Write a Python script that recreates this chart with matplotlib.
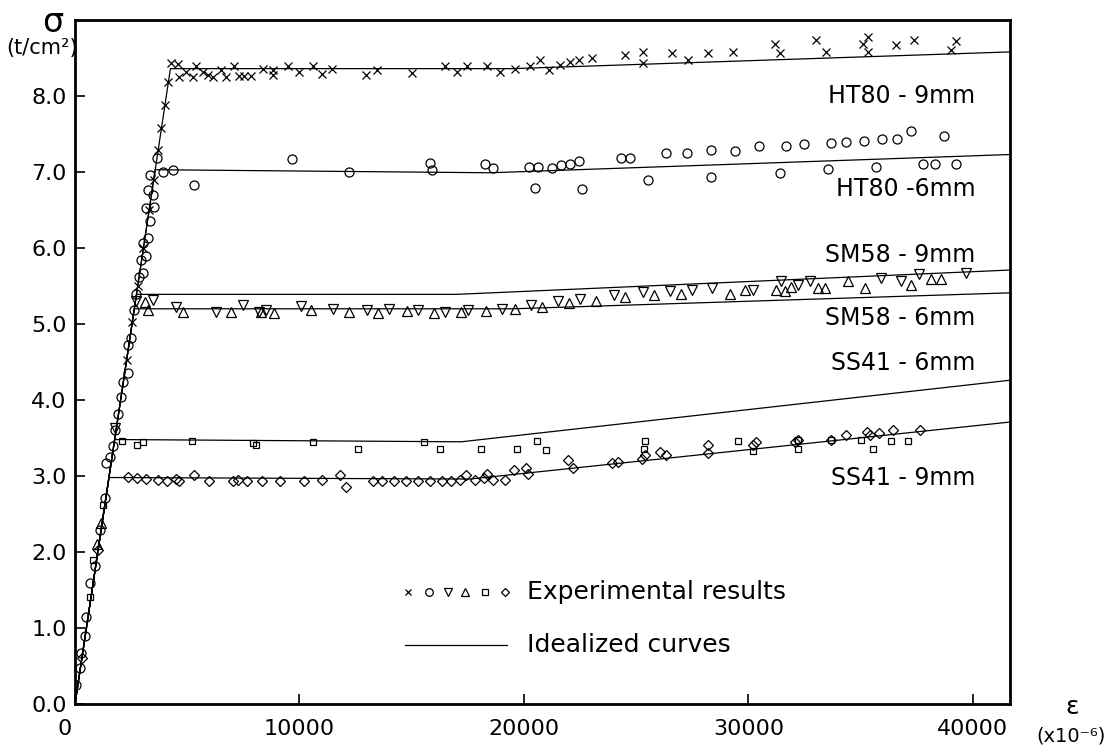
import matplotlib
matplotlib.use("Agg")
import matplotlib.pyplot as plt
from matplotlib.transforms import ScaledTranslation

plt.rcParams["font.family"] = ["DejaVu Sans"]

# ---------------------------------------------------------------
# Stress-strain data (strain in 1e-6, stress sigma_2 in t/cm^2)
# ---------------------------------------------------------------
ht80_9_strain = [2300, 2550, 2800, 3050, 3300, 3500, 3700, 3850, 4000, 4150,
                 4280, 4580, 4650, 4950, 5240, 5390, 5690, 5910, 6130, 6500,
                 6730, 7100, 7320, 7540, 7840, 8360, 8800, 8800, 9470, 9990,
                 10580, 11020, 11470, 12950, 13470, 15020, 16500, 17020, 17470, 18360,
                 18950, 19610, 20280, 20720, 21100, 21610, 22060, 22430, 23020, 24500,
                 25320, 25320, 26580, 27320, 28210, 29320, 31170, 31390, 33020, 33470,
                 35100, 35320, 35320, 36580, 37390, 39020, 39240]
ht80_9_stress = [4.53, 5.02, 5.50, 6.00, 6.50, 6.90, 7.29, 7.58, 7.88, 8.18,
                 8.43, 8.42, 8.25, 8.32, 8.25, 8.39, 8.32, 8.28, 8.25, 8.34,
                 8.25, 8.39, 8.26, 8.26, 8.26, 8.36, 8.34, 8.28, 8.39, 8.32,
                 8.39, 8.29, 8.36, 8.28, 8.34, 8.30, 8.39, 8.32, 8.39, 8.39,
                 8.32, 8.36, 8.39, 8.47, 8.34, 8.41, 8.45, 8.47, 8.50, 8.54,
                 8.58, 8.43, 8.56, 8.47, 8.56, 8.58, 8.69, 8.56, 8.74, 8.58,
                 8.69, 8.78, 8.58, 8.67, 8.74, 8.61, 8.72]

ht80_6_strain = [60, 210, 280, 430, 500, 650, 870, 1100, 1320, 1390,
                 1540, 1690, 1760, 1910, 2060, 2130, 2360, 2360, 2500, 2650,
                 2720, 2870, 3020, 2950, 3170, 3020, 3240, 3320, 3170, 3540,
                 3240, 3470, 3320, 3640, 3910,
                 4350, 5280, 9680, 12210, 15810, 15890, 18260, 18610, 20210, 20610,
                 20470, 21270, 21670, 22070, 22470, 22600, 24340, 24740, 25530, 26330,
                 27270, 28330, 28330, 29400, 30470, 31400, 31660, 32460, 33530, 33660,
                 34330, 35130, 35660, 35930, 36600, 37260, 37790, 38320, 38720, 39260]
ht80_6_stress = [0.25, 0.47, 0.67, 0.89, 1.15, 1.59, 1.81, 2.29, 2.71, 3.17,
                 3.25, 3.39, 3.61, 3.82, 4.04, 4.24, 4.35, 4.72, 4.81, 5.18,
                 5.40, 5.62, 5.67, 5.84, 5.89, 6.06, 6.13, 6.35, 6.52, 6.54,
                 6.76, 6.70, 6.96, 7.18, 7.00,
                 7.02, 6.83, 7.17, 7.00, 7.12, 7.03, 7.10, 7.05, 7.07, 7.07,
                 6.79, 7.05, 7.09, 7.10, 7.14, 6.77, 7.18, 7.19, 6.89, 7.25,
                 7.25, 7.29, 6.93, 7.27, 7.34, 6.99, 7.34, 7.37, 7.04, 7.38,
                 7.40, 7.41, 7.07, 7.44, 7.44, 7.54, 7.11, 7.11, 7.47, 7.11]

sm58_9_strain = [1760, 2720, 3470, 4500, 6280, 7470, 8210, 8500, 10060, 11500,
                 13000, 14000, 15300, 16500, 17500, 19000, 20300, 21500, 22500, 24000,
                 25300, 26500, 27500, 28360, 30210, 31470, 32210, 32730, 35910, 36800,
                 37610, 39690]
sm58_9_stress = [3.63, 5.30, 5.32, 5.23, 5.16, 5.25, 5.16, 5.18, 5.24, 5.20,
                 5.18, 5.20, 5.18, 5.16, 5.18, 5.20, 5.25, 5.30, 5.33, 5.38,
                 5.42, 5.44, 5.45, 5.47, 5.45, 5.56, 5.51, 5.57, 5.61, 5.56,
                 5.66, 5.67]

sm58_6_strain = [1000, 1170, 3100, 3240, 4800, 6950, 8280, 8880, 10500, 12200,
                 13500, 14800, 16000, 17200, 18300, 19600, 20800, 22000, 23200, 24500,
                 25800, 27000, 29170, 29840, 31240, 31610, 31910, 33100, 33390, 34430,
                 35170, 37240, 38130, 38580]
sm58_6_stress = [2.10, 2.38, 5.29, 5.18, 5.16, 5.16, 5.16, 5.14, 5.18, 5.16,
                 5.15, 5.17, 5.15, 5.16, 5.17, 5.20, 5.22, 5.28, 5.30, 5.35,
                 5.38, 5.40, 5.39, 5.45, 5.45, 5.43, 5.49, 5.47, 5.47, 5.56,
                 5.47, 5.51, 5.59, 5.59]

ss41_6_strain = [650, 800, 1240, 2090, 2760, 3020, 5230, 7950, 8080, 10610,
                 12610, 15540, 16260, 18080, 19680, 20600, 21000, 25400, 25350, 29530,
                 30200, 32190, 32190, 33660, 35000, 35530, 36330, 37120]
ss41_6_stress = [1.41, 1.89, 2.62, 3.46, 3.41, 3.45, 3.46, 3.44, 3.41, 3.45,
                 3.36, 3.45, 3.36, 3.35, 3.35, 3.46, 3.34, 3.46, 3.35, 3.46,
                 3.33, 3.47, 3.36, 3.47, 3.47, 3.36, 3.46, 3.46]

ss41_9_strain = [300, 1020, 2360, 2760, 3160, 3680, 4080, 4480, 4620, 5280,
                 5950, 7020, 7280, 7680, 8350, 9150, 10210, 11010, 11810, 12080,
                 13280, 13680, 14210, 14740, 15280, 15810, 16340, 16740, 17140, 17410,
                 17810, 18210, 18340, 18610, 19140, 19540, 20070, 20200, 21940, 22200,
                 23940, 24200, 25270, 25400, 26070, 26330, 28200, 28200, 30200, 30330,
                 32060, 32190, 33660, 34330, 35260, 35400, 35800, 36460, 37660]
ss41_9_stress = [0.60, 2.03, 2.99, 2.97, 2.96, 2.95, 2.93, 2.96, 2.93, 3.01,
                 2.93, 2.93, 2.95, 2.94, 2.94, 2.93, 2.93, 2.95, 3.01, 2.86,
                 2.93, 2.93, 2.93, 2.93, 2.93, 2.93, 2.93, 2.93, 2.95, 3.01,
                 2.95, 2.97, 3.03, 2.95, 2.95, 3.08, 3.10, 3.03, 3.21, 3.11,
                 3.17, 3.19, 3.22, 3.28, 3.32, 3.28, 3.30, 3.41, 3.41, 3.45,
                 3.45, 3.47, 3.48, 3.54, 3.58, 3.54, 3.56, 3.61, 3.60]

# Idealized (tri-linear) curves: origin -> yield -> start of hardening -> end
curve_names = ["HT80 - 9mm", "HT80 -6mm", "SM58 - 9mm", "SM58 - 6mm", "SS41 - 6mm", "SS41 - 9mm"]
curve_strain = [
    [0, 4250, 19500, 41650],
    [0, 3570, 18500, 41650],
    [0, 2740, 17000, 41650],
    [0, 2640, 19500, 41650],
    [0, 1760, 17200, 41650],
    [0, 1510, 17600, 41650],
]
curve_stress = [
    [0, 8.36, 8.36, 8.58],
    [0, 7.03, 6.99, 7.23],
    [0, 5.39, 5.39, 5.71],
    [0, 5.20, 5.20, 5.41],
    [0, 3.48, 3.45, 4.26],
    [0, 2.98, 2.96, 3.71],
]
label_stress = [8.0, 6.78, 5.91, 5.08, 4.49, 2.97]

y_ticks = [0, 1, 2, 3, 4, 5, 6, 7, 8]
y_tick_labels = ["0.0", "1.0", "2.0", "3.0", "4.0", "5.0", "6.0", "7.0", "8.0"]
x_ticks = [0, 10000, 20000, 30000, 40000]
x_tick_labels = ["0", "10000", "20000", "30000", "40000"]

W, H = 1119, 753
fig = plt.figure(figsize=(W / 100, H / 100), dpi=100)
ax = fig.add_axes([75 / W, 1 - 704 / H, (1010 - 75) / W, (704 - 20) / H])
ax.set_xlim(0, 41650)
ax.set_ylim(0, 9.0)

for xs, ys in zip(curve_strain, curve_stress):
    ax.plot(xs, ys, color="black", lw=0.9, zorder=2)

mk = dict(linestyle="none", markerfacecolor="none", markeredgecolor="black",
          markeredgewidth=0.9, zorder=3)
ax.plot(ht80_9_strain, ht80_9_stress, marker="x", markersize=5.5, **mk)
ax.plot(ht80_6_strain, ht80_6_stress, marker="o", markersize=6.5, **mk)
ax.plot(sm58_9_strain, sm58_9_stress, marker="v", markersize=7, **mk)
ax.plot(sm58_6_strain, sm58_6_stress, marker="^", markersize=7, **mk)
ax.plot(ss41_6_strain, ss41_6_stress, marker="s", markersize=5, **mk)
ax.plot(ss41_9_strain, ss41_9_stress, marker="D", markersize=5.5, **mk)

for name, ys in zip(curve_names, label_stress):
    ax.text(40100, ys, name, ha="right", va="center", fontsize=17)

ax.set_xticks(x_ticks)
ax.set_xticklabels(x_tick_labels)
ax.set_yticks(y_ticks)
ax.set_yticklabels(y_tick_labels)
ax.tick_params(direction="in", length=7, width=1.2, labelsize=16)
ax.tick_params(axis="x", pad=11)
ax.tick_params(axis="y", pad=6)
for s in ax.spines.values():
    s.set_linewidth(2.0)

# the "0" under the origin sits a little to the left of the corner
first_x = ax.get_xticklabels()[0]
first_x.set_transform(first_x.get_transform() + ScaledTranslation(-0.10, 0, fig.dpi_scale_trans))

# Axis captions
fig.text(53 / W, 1 - 22 / H, "σ", fontsize=24, ha="center", va="center")
fig.text(42 / W, 1 - 48 / H, "(t/cm²)", fontsize=15, ha="center", va="center")
fig.text(1072 / W, 1 - 707 / H, "ε", fontsize=18, ha="center", va="center")
fig.text(1071 / W, 1 - 736 / H, "(x10⁻⁶)", fontsize=14, ha="center", va="center")

# Key
leg_markers = ["x", "o", "v", "^", "s", "D"]
leg_x = [408, 429, 448, 465, 485, 505]
leg_ms = [4.5, 5.5, 6, 6, 4.5, 4.5]
for m, xp, ms in zip(leg_markers, leg_x, leg_ms):
    fig.lines.append(plt.Line2D([xp / W], [1 - 592 / H], marker=m, markersize=ms,
                                markerfacecolor="none", markeredgecolor="black",
                                markeredgewidth=0.9, linestyle="none",
                                transform=fig.transFigure))
fig.text(527 / W, 1 - 592 / H, "Experimental results", fontsize=18, ha="left", va="center")
fig.lines.append(plt.Line2D([405 / W, 507 / W], [1 - 645 / H, 1 - 645 / H],
                            color="black", lw=0.9, transform=fig.transFigure))
fig.text(527 / W, 1 - 645 / H, "Idealized curves", fontsize=18, ha="left", va="center")

fig.savefig("out.png", dpi=100)
